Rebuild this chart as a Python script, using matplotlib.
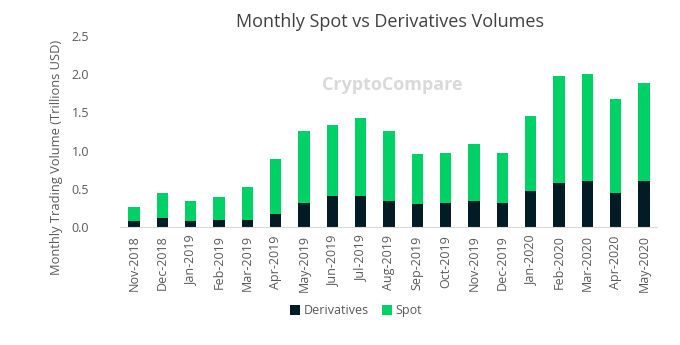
import numpy as np
import matplotlib.pyplot as plt

plt.rcParams['font.family'] = ['Open Sans', 'DejaVu Sans']

months = ['Nov-2018', 'Dec-2018', 'Jan-2019', 'Feb-2019', 'Mar-2019', 'Apr-2019',
          'May-2019', 'Jun-2019', 'Jul-2019', 'Aug-2019', 'Sep-2019', 'Oct-2019',
          'Nov-2019', 'Dec-2019', 'Jan-2020', 'Feb-2020', 'Mar-2020', 'Apr-2020',
          'May-2020']
derivatives = [0.08, 0.12, 0.08, 0.095, 0.095, 0.17, 0.31, 0.40, 0.40, 0.34,
               0.30, 0.31, 0.34, 0.32, 0.47, 0.57, 0.60, 0.45, 0.60]
total = [0.26, 0.445, 0.345, 0.39, 0.52, 0.89, 1.26, 1.335, 1.43, 1.26,
         0.96, 0.965, 1.09, 0.965, 1.45, 1.98, 2.0, 1.67, 1.88]
spot = [t - d for t, d in zip(total, derivatives)]

dark = '#021b24'
green = '#00d166'
grey = '#595959'

fig = plt.figure(figsize=(6.8, 3.45), dpi=100)
ax = fig.add_axes([0.176, 0.342, 0.79, 0.554])

x = np.arange(len(months))
ax.bar(x, derivatives, width=0.4, color=dark, label='Derivatives')
ax.bar(x, spot, width=0.4, bottom=derivatives, color=green, label='Spot')

ax.set_xlim(-0.5, len(months) - 0.55)
ax.set_ylim(0, 2.5)
ax.set_yticks(np.arange(0, 2.51, 0.5))
ax.set_yticklabels(['%.1f' % v for v in np.arange(0, 2.51, 0.5)])
ax.set_xticks(x)
ax.set_xticklabels(months, rotation=90)
ax.tick_params(axis='both', length=0, labelsize=9, colors=grey)
ax.tick_params(axis='x', pad=6)
ax.tick_params(axis='y', pad=22)

for s in ['top', 'right', 'left']:
    ax.spines[s].set_visible(False)
ax.spines['bottom'].set_color('#d9d9d9')

ax.set_ylabel('Monthly Trading Volume (Trillions USD)', fontsize=9.3, color=grey)
ax.yaxis.set_label_coords(-0.106, 0.366)
fig.text(0.573, 0.935, 'Monthly Spot vs Derivatives Volumes', ha='center', va='center',
         fontsize=13, color='#404040')

# watermark
fig.text(0.577, 0.755, 'CryptoCompare', ha='center', va='center', fontsize=13,
         fontweight='bold', color='#d0d0d0', alpha=0.8)

ax.legend(loc='upper center', bbox_to_anchor=(0.44, -0.345), ncol=2, frameon=False,
          fontsize=9, handlelength=0.8, handleheight=0.8, handletextpad=0.3,
          columnspacing=1.0, labelcolor=grey)

fig.savefig('out.png', dpi=100)
